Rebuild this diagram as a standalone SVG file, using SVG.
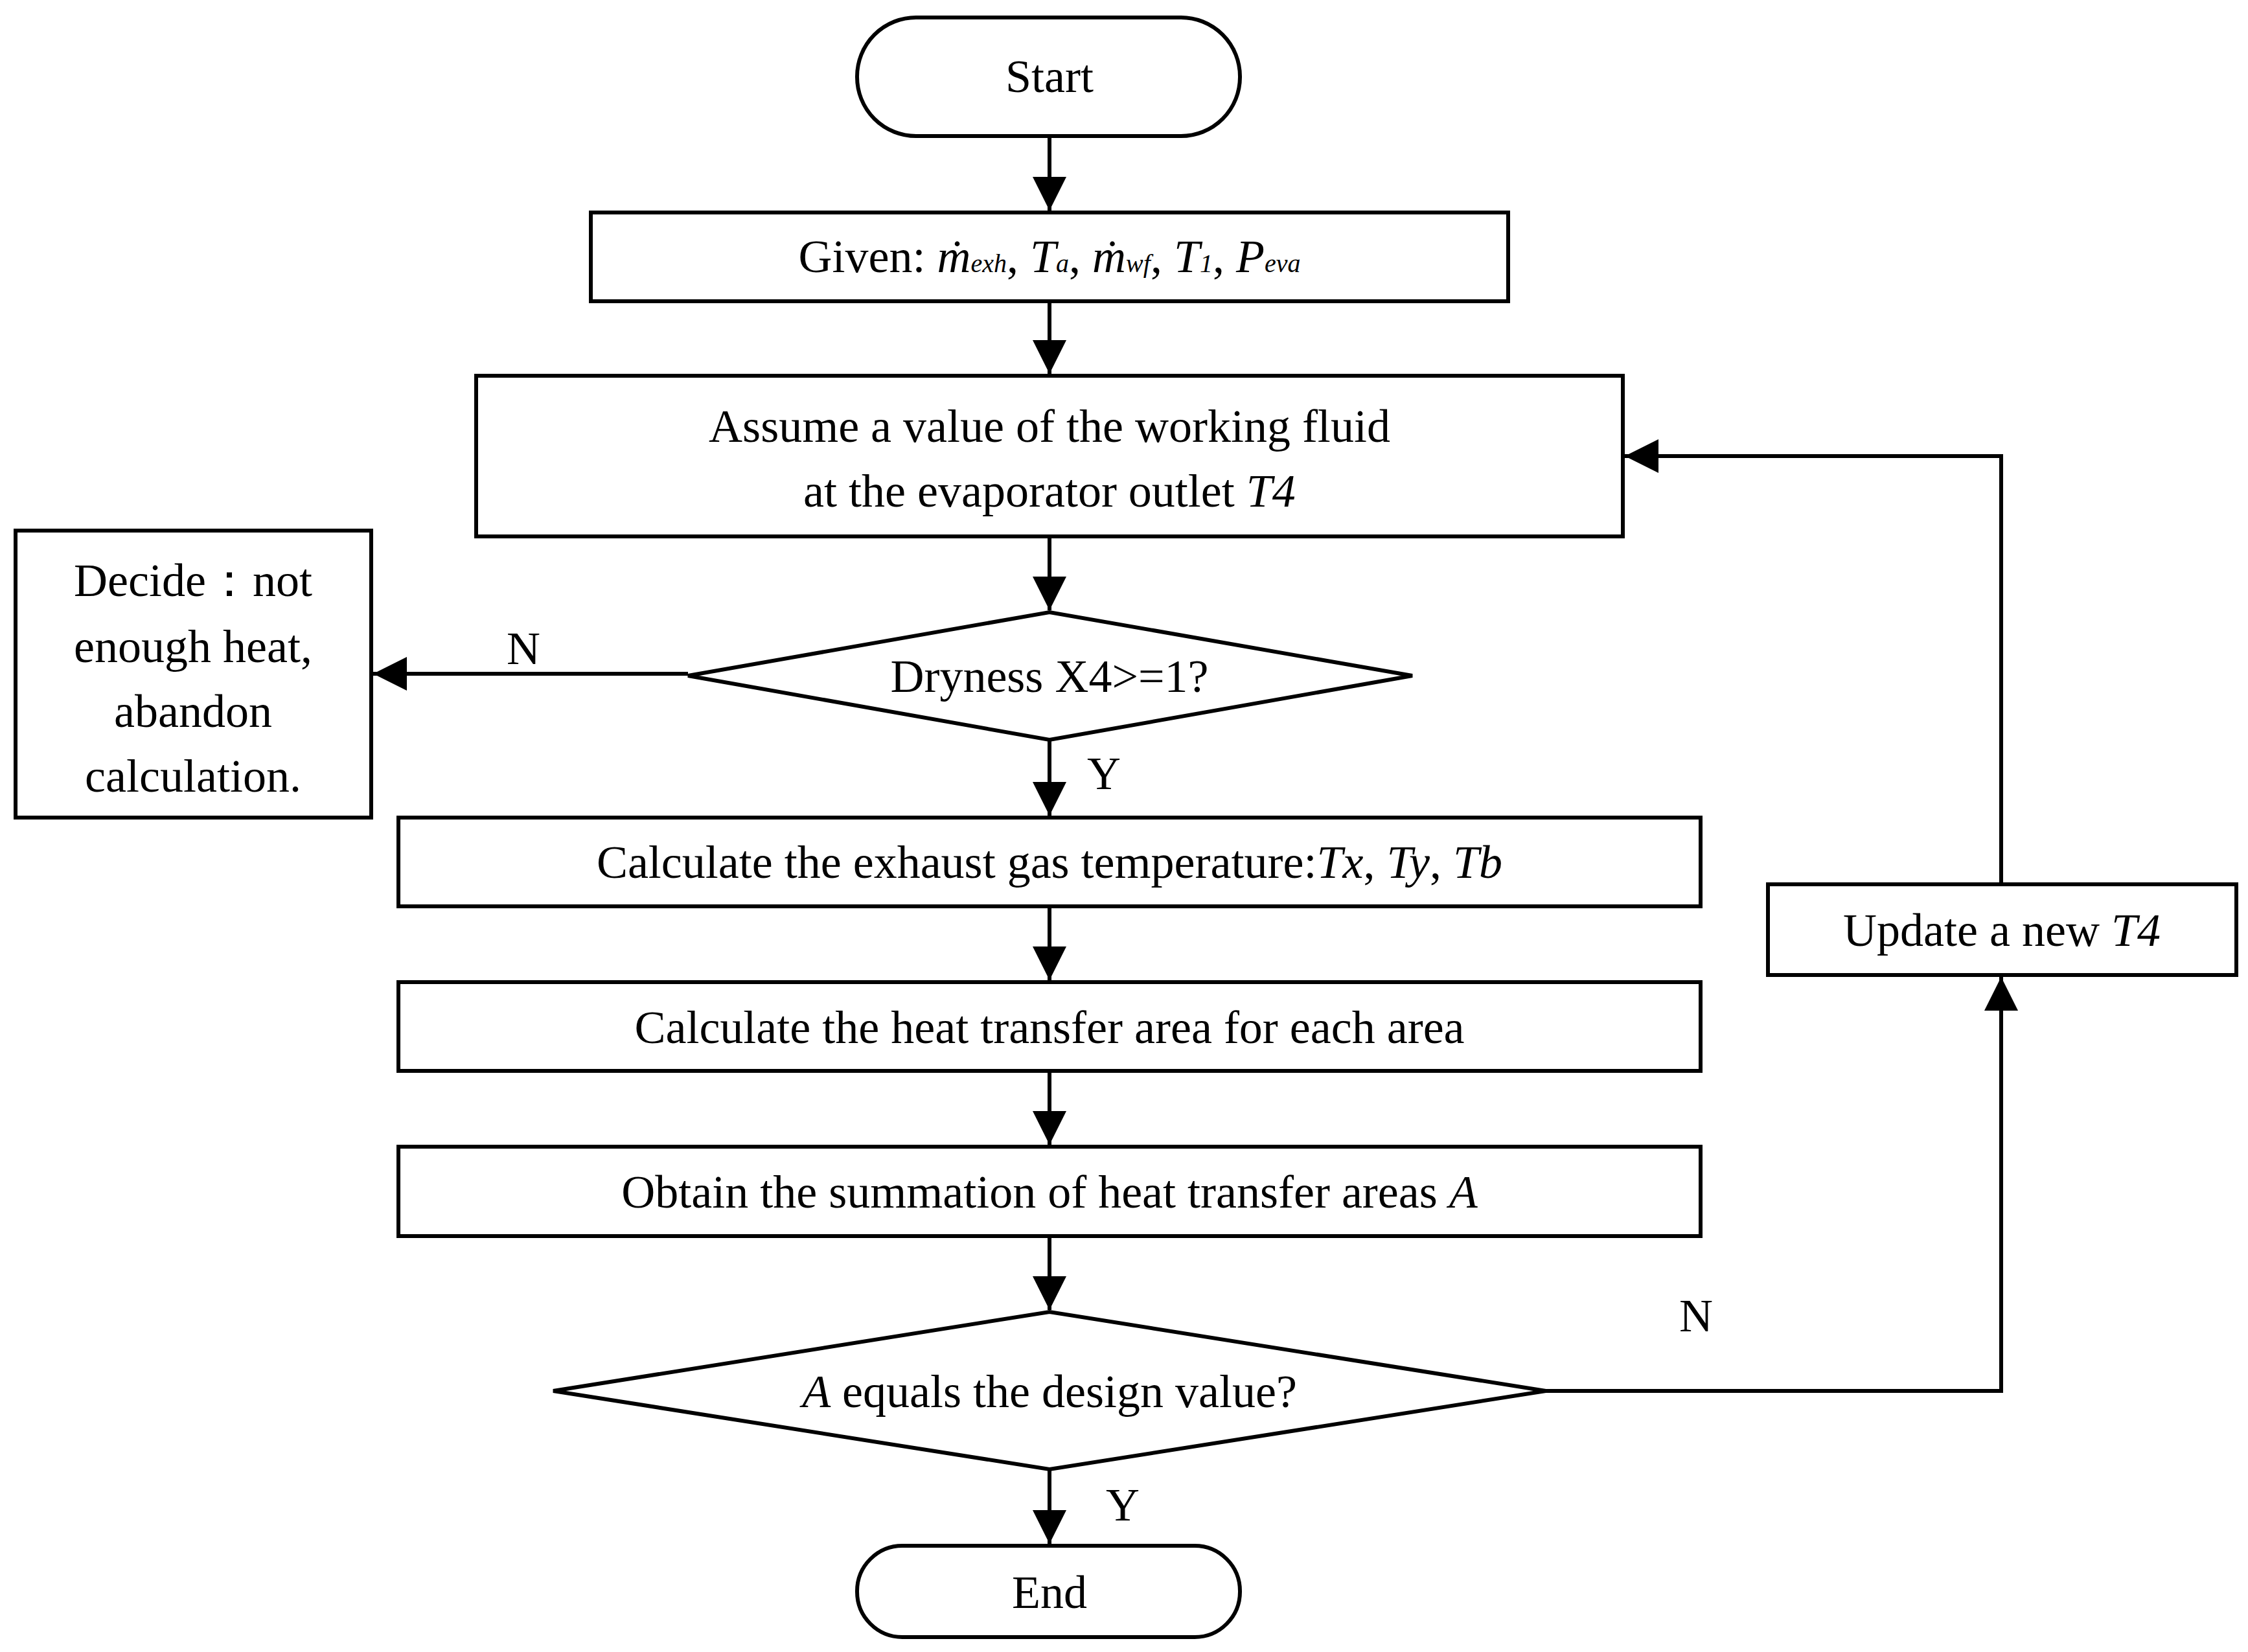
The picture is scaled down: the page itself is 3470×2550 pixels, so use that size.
<svg xmlns="http://www.w3.org/2000/svg" width="3470" height="2550" viewBox="0 0 3470 2550">
<style>
.s{fill:#fff;stroke:#000;stroke-width:6}
.c{fill:none;stroke:#000;stroke-width:6}
text{font-family:"Liberation Serif","DejaVu Serif",serif;font-size:72px;fill:#000}
.m{text-anchor:middle}
.i{font-style:italic}
.sub{font-size:40px;font-style:italic}
</style>
<defs><marker id="a" markerUnits="userSpaceOnUse" markerWidth="56" markerHeight="52" refX="52" refY="26" orient="auto"><path d="M0,0L52,26L0,52Z" fill="#000"/></marker></defs>
<rect width="3470" height="2550" fill="#fff"/>
<g id="connectors">
<path class="c" d="M1620,210V325" marker-end="url(#a)"/>
<path class="c" d="M1620,465V577" marker-end="url(#a)"/>
<path class="c" d="M1620,828V942" marker-end="url(#a)"/>
<path class="c" d="M1062,1040H576" marker-end="url(#a)"/>
<path class="c" d="M1620,1142V1259" marker-end="url(#a)"/>
<path class="c" d="M1620,1399V1513" marker-end="url(#a)"/>
<path class="c" d="M1620,1653V1767" marker-end="url(#a)"/>
<path class="c" d="M1620,1908V2022" marker-end="url(#a)"/>
<path class="c" d="M1620,2268V2383" marker-end="url(#a)"/>
<path class="c" d="M2386,2147H3089V1508" marker-end="url(#a)"/>
<path class="c" d="M3089,1365V704H2508" marker-end="url(#a)"/>
<text x="808" y="1025" class="m">N</text>
<text x="1704" y="1218" class="m">Y</text>
<text x="2618" y="2055" class="m">N</text>
<text x="1733" y="2347" class="m">Y</text>
</g>
<g id="start"><rect class="s" x="1323" y="27" width="591" height="183" rx="91"/><text x="1620" y="142" class="m">Start</text></g>
<g id="given"><rect class="s" x="912" y="328" width="1416" height="137"/><text x="1620" y="420" class="m">Given: <tspan class="i">ṁ</tspan><tspan class="sub">exh</tspan>, <tspan class="i">T</tspan><tspan class="sub">a</tspan>, <tspan class="i">ṁ</tspan><tspan class="sub">wf</tspan>, <tspan class="i">T</tspan><tspan class="sub">1</tspan>, <tspan class="i">P</tspan><tspan class="sub">eva</tspan></text></g>
<g id="assume"><rect class="s" x="735" y="580" width="1770" height="248"/><text x="1620" y="682" class="m">Assume a value of the working fluid</text><text x="1620" y="782" class="m">at the evaporator outlet <tspan class="i">T4</tspan></text></g>
<g id="dry"><path class="s" d="M1062,1043L1620,945L2180,1043L1620,1142Z"/><text x="1620" y="1068" class="m">Dryness X4&gt;=1?</text></g>
<g id="decide"><rect class="s" x="24" y="819" width="549" height="443"/><text x="298" y="920" class="m">Decide：not</text><text x="298" y="1022" class="m">enough heat,</text><text x="298" y="1122" class="m">abandon</text><text x="298" y="1222" class="m">calculation.</text></g>
<g id="calc1"><rect class="s" x="615" y="1262" width="2010" height="137"/><text x="1620" y="1355" class="m">Calculate the exhaust gas temperature:<tspan class="i">Tx</tspan>, <tspan class="i">Ty</tspan>, <tspan class="i">Tb</tspan></text></g>
<g id="calc2"><rect class="s" x="615" y="1516" width="2010" height="137"/><text x="1620" y="1610" class="m">Calculate the heat transfer area for each area</text></g>
<g id="obtain"><rect class="s" x="615" y="1770" width="2010" height="138"/><text x="1620" y="1864" class="m">Obtain the summation of heat transfer areas <tspan class="i">A</tspan></text></g>
<g id="equals"><path class="s" d="M854,2147L1620,2025L2386,2147L1620,2268Z"/><text x="1620" y="2172" class="m"><tspan class="i">A</tspan> equals the design value?</text></g>
<g id="end"><rect class="s" x="1323" y="2386" width="591" height="141" rx="70"/><text x="1620" y="2482" class="m">End</text></g>
<g id="update"><rect class="s" x="2729" y="1365" width="723" height="140"/><text x="3090" y="1460" class="m">Update a new <tspan class="i">T4</tspan></text></g>
</svg>
